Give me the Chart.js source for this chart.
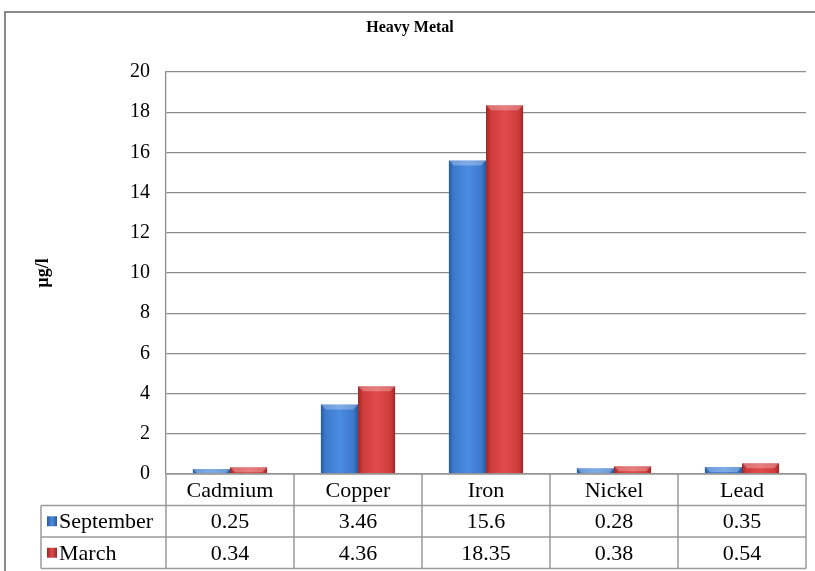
<!DOCTYPE html>
<html>
<head>
<meta charset="utf-8">
<script src="https://cdn.jsdelivr.net/npm/chart.js@4/dist/chart.umd.min.js"></script>
<style>
  html, body { margin: 0; padding: 0; background: #fff; }
  #wrap { width: 815px; height: 571px; position: relative; }
</style>
</head>
<body>
<div id="wrap"><canvas id="metalChart"></canvas></div>
<script>
// data
const metals = ['Cadmium', 'Copper', 'Iron', 'Nickel', 'Lead'];
const september = [0.25, 3.46, 15.6, 0.28, 0.35];
const march = [0.34, 4.36, 18.35, 0.38, 0.54];
const seriesNames = ['September', 'March'];
const yMin = 0, yMax = 20, yStep = 2;

const SERIF = '"Liberation Serif", "Times New Roman", serif';
const CAT_PCT = 0.58;

// colour sets: [dark edge, body, light centre]
const palettes = [
    ['#2a5a9c', '#3b79cc', '#4b8ce0'],
    ['#9c2828', '#cf3a3a', '#e04c4c']
];

function barGradient(c) {
    const chart = c.chart;
    const pal = palettes[c.datasetIndex];
    const xs = chart.scales.x;
    if (!chart.chartArea || !xs || c.dataIndex === undefined) return pal[1];
    const cx = xs.getPixelForValue(c.dataIndex);
    const half = xs.width / metals.length * CAT_PCT / 2;
    const left = c.datasetIndex === 0 ? cx - half : cx;
    const right = left + half;
    const g = chart.ctx.createLinearGradient(left, 0, right, 0);
    g.addColorStop(0, pal[0]);
    g.addColorStop(0.12, pal[1]);
    g.addColorStop(0.5, pal[2]);
    g.addColorStop(0.88, pal[1]);
    g.addColorStop(1, pal[0]);
    return g;
}

// little bevel on the top of each bar
const bevelPlugin = {
    id: 'bevel',
    afterDatasetsDraw(chart) {
        const ctx = chart.ctx;
        chart.data.datasets.forEach((ds, di) => {
            chart.getDatasetMeta(di).data.forEach(bar => {
                const l = bar.x - bar.width / 2, r = bar.x + bar.width / 2;
                const h = Math.min(5, bar.base - bar.y);
                ctx.save();
                ctx.fillStyle = 'rgba(255,255,255,0.28)';
                ctx.beginPath();
                ctx.moveTo(l, bar.y);
                ctx.lineTo(r, bar.y);
                ctx.lineTo(r - h, bar.y + h);
                ctx.lineTo(l + h, bar.y + h);
                ctx.closePath();
                ctx.fill();
                ctx.restore();
            });
        });
    }
};

// frame, title and the data table under the plot
const tablePlugin = {
    id: 'dataTable',
    afterDraw(chart) {
        const ctx = chart.ctx;
        const area = chart.chartArea;
        const xs = chart.scales.x;
        const colW = xs.width / metals.length;
        const rowH = 31.5;
        const legendLeft = 41;
        const top = area.bottom;

        ctx.save();
        // outer frame (runs off the right / bottom edges)
        ctx.strokeStyle = '#8a8a8a';
        ctx.lineWidth = 2;
        ctx.strokeRect(5, 12, 830, 580);

        // title
        ctx.fillStyle = '#000';
        ctx.font = 'bold 16px ' + SERIF;
        ctx.textAlign = 'center';
        ctx.textBaseline = 'middle';
        ctx.fillText('Heavy Metal', 410, 28);

        // table grid
        ctx.strokeStyle = '#9a9a9a';
        ctx.lineWidth = 1.5;
        ctx.beginPath();
        ctx.moveTo(area.left, top); ctx.lineTo(area.right, top);
        for (let r = 1; r <= 3; r++) {
            ctx.moveTo(legendLeft, top + r * rowH);
            ctx.lineTo(area.right, top + r * rowH);
        }
        ctx.moveTo(legendLeft, top + rowH); ctx.lineTo(legendLeft, top + 3 * rowH);
        for (let i = 0; i <= metals.length; i++) {
            const x = area.left + i * colW;
            ctx.moveTo(x, top); ctx.lineTo(x, top + 3 * rowH);
        }
        ctx.stroke();

        // text
        ctx.fillStyle = '#000';
        ctx.font = '22px ' + SERIF;
        ctx.textBaseline = 'middle';
        ctx.textAlign = 'center';
        metals.forEach((m, i) => {
            const cx = xs.getPixelForValue(i);
            ctx.fillText(m, cx, top + rowH / 2 + 1);
            chart.data.datasets.forEach((ds, di) => {
                ctx.fillText(String(ds.data[i]), cx, top + rowH * (di + 1.5) + 1);
            });
        });

        // legend keys + series names
        chart.data.datasets.forEach((ds, di) => {
            const cy = top + rowH * (di + 1.5);
            const pal = palettes[di];
            const g = ctx.createLinearGradient(47, 0, 57, 0);
            g.addColorStop(0, pal[0]);
            g.addColorStop(0.5, pal[2]);
            g.addColorStop(1, pal[0]);
            ctx.fillStyle = g;
            ctx.fillRect(47, cy - 5, 10, 10);
            ctx.fillStyle = '#000';
            ctx.textAlign = 'left';
            ctx.fillText(ds.label, 59, cy + 1);
        });
        ctx.restore();
    }
};

const ctx = document.getElementById('metalChart').getContext('2d');
const metalChart = new Chart(ctx, {
    type: 'bar',
    data: {
        labels: metals,
        datasets: [
            { label: seriesNames[0], data: september, backgroundColor: barGradient },
            { label: seriesNames[1], data: march, backgroundColor: barGradient }
        ]
    },
    options: {
        responsive: true,
        maintainAspectRatio: false,
        animation: false,
        layout: { padding: { top: 72, right: 9, bottom: 97, left: 0 } },
        datasets: {
            bar: { categoryPercentage: CAT_PCT, barPercentage: 1, borderWidth: 0 }
        },
        plugins: {
            legend: { display: false },
            title: { display: false },
            tooltip: { enabled: false }
        },
        scales: {
            x: {
                ticks: { display: false },
                grid: { display: false },
                border: { display: false },
                afterFit(s) { s.height = 0; }
            },
            y: {
                min: yMin,
                max: yMax,
                ticks: {
                    stepSize: yStep,
                    padding: 16,
                    color: '#000',
                    font: { family: SERIF, size: 20 }
                },
                grid: { color: '#8c8c8c', lineWidth: 1.3, drawTicks: false },
                border: { display: true, color: '#8c8c8c', width: 1.3 },
                title: {
                    display: true,
                    text: 'µg/l',
                    color: '#000',
                    font: { family: SERIF, size: 18, weight: 'bold' },
                    padding: { top: 33, bottom: 0 }
                },
                afterFit(s) { s.width = 166; }
            }
        }
    },
    plugins: [bevelPlugin, tablePlugin]
});
</script>
</body>
</html>
